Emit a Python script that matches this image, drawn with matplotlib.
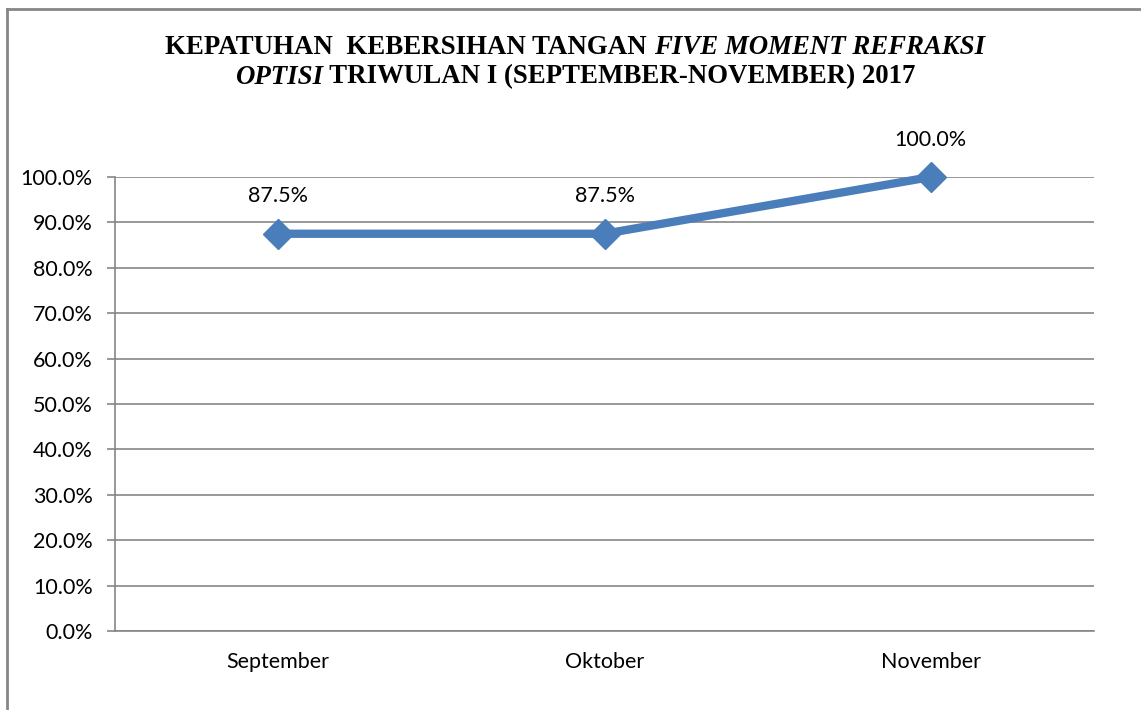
import matplotlib
matplotlib.use("Agg")
import matplotlib.pyplot as plt
from matplotlib.lines import Line2D
from matplotlib.ticker import PercentFormatter, MultipleLocator

months = ["September", "Oktober", "November"]
compliance = [0.875, 0.875, 1.0]
value_labels = ["87.5%", "87.5%", "100.0%"]

fig = plt.figure(figsize=(11.41, 7.10), dpi=100)
W, H = 1141, 710
ax = fig.add_axes([115 / W, 1 - 631 / H, (1094 - 115) / W, (631 - 177) / H])

gray = "#868686"
blue = "#4A7EBB"
tick_font = "Lato"
fs = 15.5

x = list(range(len(months)))
ax.plot(x, compliance, color=blue, lw=6, marker="D", markersize=15,
        solid_joinstyle="miter", zorder=3, clip_on=False)
for xi, yi, lab in zip(x, compliance, value_labels):
    ax.annotate(lab, (xi, yi), xytext=(0, 27), textcoords="offset points",
                ha="center", va="center", fontsize=fs, family=tick_font, color="black")

ax.set_xlim(-0.5, 2.5)
ax.set_ylim(0, 1.0)
ax.yaxis.set_major_locator(MultipleLocator(0.1))
ax.yaxis.set_major_formatter(PercentFormatter(1.0, decimals=1))
ax.set_xticks(x)
ax.set_xticklabels(months)
ax.grid(axis="y", color=gray, lw=1.2)
ax.set_axisbelow(True)
for s in ["top", "right"]:
    ax.spines[s].set_visible(False)
for s in ["left", "bottom"]:
    ax.spines[s].set_color(gray)
    ax.spines[s].set_linewidth(1.2)
ax.tick_params(axis="y", length=6, color=gray, width=1.2, pad=10, labelsize=fs)
ax.tick_params(axis="x", length=0, pad=15, labelsize=fs)
for lab in ax.get_xticklabels() + ax.get_yticklabels():
    lab.set_family(tick_font)

# figure border (left and top)
fig.add_artist(Line2D([7 / W, 7 / W], [0, 1 - 9 / H], color=gray, lw=2, transform=fig.transFigure))
fig.add_artist(Line2D([7 / W, 1], [1 - 9 / H, 1 - 9 / H], color=gray, lw=2, transform=fig.transFigure))

# title with mixed italic
title_lines = [
    [("KEPATUHAN  KEBERSIHAN TANGAN ", "normal"), ("FIVE MOMENT REFRAKSI", "italic")],
    [("OPTISI", "italic"), (" TRIWULAN I (SEPTEMBER-NOVEMBER) 2017", "normal")],
]
title_y = [1 - 47 / H, 1 - 77 / H]
cx = 575 / W
renderer = fig.canvas.get_renderer()
for parts, ty in zip(title_lines, title_y):
    texts = []
    for s, style in parts:
        t = fig.text(0, ty, s, fontsize=19.4, fontweight="bold", style=style,
                     family="Liberation Serif", va="center", ha="left")
        texts.append(t)
    widths = [t.get_window_extent(renderer).width / W for t in texts]
    total = sum(widths)
    xpos = cx - total / 2
    for t, w in zip(texts, widths):
        t.set_x(xpos)
        xpos += w

fig.savefig("out.png", dpi=100)
